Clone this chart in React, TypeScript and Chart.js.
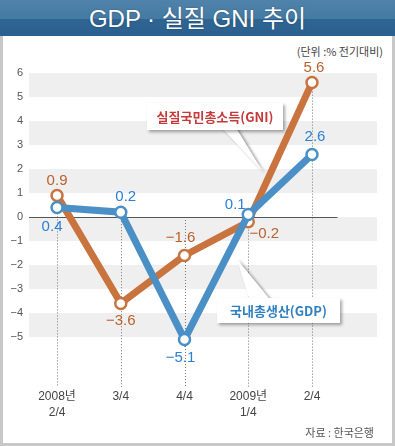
import React, { useEffect, useRef } from "react";
import { Chart, registerables } from "chart.js";

Chart.register(...registerables);

const categories: (string | string[])[] = [["2008년", "2/4"], "3/4", "4/4", ["2009년", "1/4"], "2/4"];
const gniValues = [0.9, -3.6, -1.6, -0.2, 5.6];
const gdpValues = [0.4, 0.2, -5.1, 0.1, 2.6];
const gniLabels = ["0.9", "−3.6", "−1.6", "−0.2", "5.6"];
const gdpLabels = ["0.4", "0.2", "−5.1", "0.1", "2.6"];
const yTickValues = [6, 5, 4, 3, 2, 1, 0, -1, -2, -3, -4, -5];
const bandRanges = [[5, 6], [3, 4], [1, 2], [-1, 0], [-3, -2], [-5, -4]];

// label offsets (style)
const gniOffsets = [[0, -15], [0, 17], [-4, -18], [16, 12], [2, -15]];
const gdpOffsets = [[-5, 19], [5, -15], [-4, 18], [-13, -10], [3, -18]];

const ORANGE = "#c9733f";
const BLUE = "#4a90c6";
const ORANGE_TXT = "#b9622c";
const BLUE_TXT = "#2a7fd6";

const FONT = "'Liberation Sans', 'Noto Sans CJK KR', sans-serif";

export default function App() {
  const ref = useRef<HTMLCanvasElement>(null);
  useEffect(() => {
    const cv = ref.current!;
    const plugin = {
      id: "deco",
      beforeDatasetsDraw(chart: any) {
        const { ctx, chartArea, scales } = chart;
        const x = scales.x, y = scales.y;
        ctx.save();
        ctx.fillStyle = "#efefef";
        for (const [a, b] of bandRanges) {
          const t = y.getPixelForValue(b), bt = y.getPixelForValue(a);
          ctx.fillRect(chartArea.left, t, chartArea.right - chartArea.left, bt - t);
        }
        // dotted verticals
        ctx.strokeStyle = "#777";
        ctx.lineWidth = 1;
        ctx.setLineDash([1, 2]);
        for (let i = 0; i < categories.length; i++) {
          const top = Math.max(0, gniValues[i], gdpValues[i]);
          const px = Math.round(x.getPixelForValue(i)) + 0.5;
          ctx.beginPath();
          ctx.moveTo(px, y.getPixelForValue(top));
          ctx.lineTo(px, chartArea.bottom + 2);
          ctx.stroke();
        }
        ctx.setLineDash([]);
        // zero line
        ctx.strokeStyle = "#555";
        const zy = Math.round(y.getPixelForValue(0)) + 0.5;
        ctx.beginPath();
        ctx.moveTo(chartArea.left, zy);
        ctx.lineTo(x.getPixelForValue(4.4), zy);
        ctx.stroke();
        ctx.restore();
      },
      afterDatasetsDraw(chart: any) {
        const { ctx, scales } = chart;
        const x = scales.x, y = scales.y;
        ctx.save();
        // callout tails
        ctx.shadowColor = "rgba(0,0,0,0.4)";
        ctx.shadowBlur = 3;
        ctx.shadowOffsetX = 2;
        ctx.shadowOffsetY = 1;
        ctx.fillStyle = "#fff";
        ctx.beginPath();
        ctx.moveTo(220, 126);
        ctx.lineTo(235, 126);
        ctx.lineTo(263, 172);
        ctx.closePath();
        ctx.fill();
        ctx.beginPath();
        ctx.moveTo(250, 302);
        ctx.lineTo(272, 302);
        ctx.lineTo(237, 259);
        ctx.closePath();
        ctx.fill();
        ctx.restore();

        ctx.save();
        ctx.font = `15px ${FONT}`;
        ctx.textAlign = "center";
        ctx.textBaseline = "middle";
        for (let i = 0; i < categories.length; i++) {
          ctx.fillStyle = ORANGE_TXT;
          ctx.fillText(gniLabels[i], x.getPixelForValue(i) + gniOffsets[i][0], y.getPixelForValue(gniValues[i]) + gniOffsets[i][1]);
          ctx.fillStyle = BLUE_TXT;
          ctx.fillText(gdpLabels[i], x.getPixelForValue(i) + gdpOffsets[i][0], y.getPixelForValue(gdpValues[i]) + gdpOffsets[i][1]);
        }
        ctx.restore();
      },
    };
    const chart = new Chart(cv, {
      type: "line",
      data: {
        datasets: [
          {
            label: "국내총생산(GDP)",
            data: gdpValues.map((v, i) => ({ x: i, y: v })),
            borderColor: BLUE,
            borderWidth: 7,
            pointRadius: 5.5,
            pointBorderWidth: 2.5,
            pointBackgroundColor: "#fff",
            pointBorderColor: BLUE,
            tension: 0,
          },
          {
            label: "실질국민총소득(GNI)",
            data: gniValues.map((v, i) => ({ x: i, y: v })),
            borderColor: ORANGE,
            borderWidth: 7,
            pointRadius: 5.5,
            pointBorderWidth: 2.5,
            pointBackgroundColor: "#fff",
            pointBorderColor: ORANGE,
            tension: 0,
          },
        ],
      },
      options: {
        responsive: false,
        animation: false,
        events: [],
        layout: { padding: { left: 0, top: 73, right: 18, bottom: 21 } },
        plugins: { legend: { display: false }, tooltip: { enabled: false } },
        scales: {
          x: {
            type: "linear",
            min: -0.44,
            max: 5.02,
            grid: { display: false, drawTicks: false },
            border: { display: false },
            afterFit: (s: any) => { s.height = 40; },
            afterBuildTicks: (s: any) => { s.ticks = categories.map((_, i) => ({ value: i })); },
            ticks: {
              autoSkip: false,
              maxRotation: 0,
              padding: 4,
              color: "#444",
              font: { family: FONT, size: 12, lineHeight: 1.33 },
              callback: (v: any) => categories[v as number] as any,
            },
          },
          y: {
            min: -7,
            max: 6,
            grid: { display: false, drawTicks: false },
            border: { display: false },
            afterFit: (s: any) => { s.width = 29; },
            afterBuildTicks: (s: any) => { s.ticks = yTickValues.map((v) => ({ value: v })); },
            ticks: {
              padding: 6,
              color: "#555",
              font: { family: FONT, size: 11 },
              callback: (v: any) => (v < 0 ? "−" + Math.abs(v) : String(v)),
            },
          },
        },
      },
      plugins: [plugin],
    } as any);
    return () => chart.destroy();
  }, []);

  return (
    <div style={{ position: "absolute", left: 0, top: 0, width: 395, height: 446, background: "#c8c8c8", overflow: "hidden", fontFamily: FONT }}>
      <div style={{ position: "absolute", left: 3, top: 36, width: 389, height: 407, background: "#fff" }} />
      <div
        style={{
          position: "absolute", left: 0, top: 0, width: 395, height: 36,
          background: "linear-gradient(#5083aa 0%, #447aa3 52%, #2f6593 54%, #2b5f8e 100%)",
          color: "#fff", textAlign: "center", lineHeight: "37px", fontSize: 24,
          fontFamily: "'Liberation Sans', 'Noto Sans CJK KR', sans-serif", textShadow: "0 0 2px rgba(0,0,0,0.3)",
        }}
      >
        GDP · 실질 GNI 추이
      </div>
      <div style={{ position: "absolute", right: 12, top: 43, fontSize: 11, color: "#444", fontFamily: "'Noto Sans CJK KR', sans-serif" }}>
        (단위 :% 전기대비)
      </div>
      <canvas ref={ref} width={395} height={446} style={{ position: "absolute", left: 0, top: 0, width: 395, height: 446 }} />
      <div
        style={{
          position: "absolute", left: 147, top: 103, width: 136, height: 27, background: "#fff",
          boxShadow: "2px 2px 3px rgba(0,0,0,0.35)", color: "#c63a3a", fontSize: 13, fontWeight: "bold",
          textAlign: "center", lineHeight: "27px", fontFamily: "'Noto Sans CJK KR', sans-serif",
        }}
      >
        실질국민총소득(GNI)
      </div>
      <div
        style={{
          position: "absolute", left: 217, top: 298, width: 123, height: 25, background: "#fff",
          boxShadow: "2px 2px 3px rgba(0,0,0,0.35)", color: "#2f7fc0", fontSize: 13, fontWeight: "bold",
          textAlign: "center", lineHeight: "25px", fontFamily: "'Noto Sans CJK KR', sans-serif",
        }}
      >
        국내총생산(GDP)
      </div>
      <div style={{ position: "absolute", right: 21, top: 424, fontSize: 11, color: "#555", fontFamily: "'Noto Sans CJK KR', sans-serif" }}>
        자료 : 한국은행
      </div>
    </div>
  );
}
